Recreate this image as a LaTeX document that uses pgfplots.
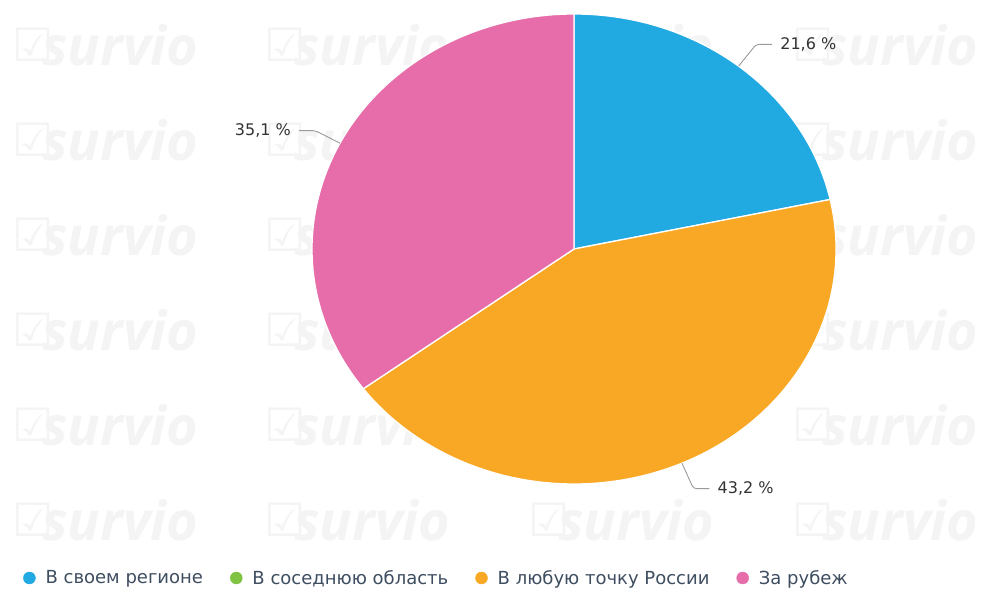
\documentclass[border=0pt]{standalone}
\usepackage{pgfplots}
\pgfplotsset{compat=1.18}
\usepackage{pgfplotstable}
\usepackage{fontspec}
\setmainfont{DejaVu Sans}
\newfontfamily\wmfont{Open Sans}
\newfontfamily\symfont{DejaVu Sans}
\definecolor{cblue}{HTML}{21A9E1}
\definecolor{cgreen}{HTML}{80C342}
\definecolor{corange}{HTML}{F9A825}
\definecolor{cpink}{HTML}{E66DAA}
\definecolor{ctext}{HTML}{333333}
\definecolor{clegend}{HTML}{3E4D60}
\definecolor{cline}{HTML}{9A9A9A}
\definecolor{cwm}{HTML}{F4F4F4}

\pgfplotstableread{
idx value
0 21.6
1 0
2 43.2
3 35.1
}\pietable

% geometry of the pie (axis units = 1pt = 1px)
\def\cx{574}\def\cy{347}\def\rx{262}\def\ry{235}

\newcommand\drawwatermark{%
  \foreach \wy in {551,456,361,266,171,76}{%
    \foreach \wx in {12,264,528,792}{%
      \node[anchor=west, inner sep=0pt, text=cwm, font=\symfont\fontsize{46}{50}\selectfont]
        at (axis cs:\wx,\wy) {☑};
      \node[anchor=west, inner sep=0pt, text=cwm, font=\wmfont\bfseries\itshape\fontsize{54}{60}\selectfont]
        at (axis cs:\wx+30,\wy) {survio};
    }}%
}

\newcommand\drawpie{%
  \gdef\tot{0}%
  \foreach \i in {0,...,3}{%
    \pgfplotstablegetelem{\i}{value}\of\pietable
    \pgfmathsetmacro\tt{\tot+\pgfplotsretval}%
    \xdef\tot{\tt}}%
  \gdef\ang{90}%
  \foreach \i/\col in {0/cblue,1/cgreen,2/corange,3/cpink}{%
    \pgfplotstablegetelem{\i}{value}\of\pietable
    \let\sv\pgfplotsretval
    \pgfmathsetmacro\aB{\ang-360*\sv/\tot}%
    \ifdim\sv pt>0pt
      \filldraw[fill=\col, draw=white, line width=1.3pt, line join=round]
        (axis cs:\cx,\cy) -- (axis cs:{\cx+\rx*cos(\ang)},{\cy+\ry*sin(\ang)})
        arc[start angle=\ang, end angle=\aB, x radius=\rx pt, y radius=\ry pt] -- cycle;
    \fi
    \xdef\ang{\aB}}%
  \gdef\ang{90}%
  \foreach \i in {0,...,3}{%
    \pgfplotstablegetelem{\i}{value}\of\pietable
    \let\sv\pgfplotsretval
    \pgfmathsetmacro\aB{\ang-360*\sv/\tot}%
    \ifdim\sv pt>0pt
      \pgfmathsetmacro\m{(\ang+\aB)/2}%
      \pgfmathsetmacro\Ex{\cx+\rx*cos(\m)}%
      \pgfmathsetmacro\Ey{\cy+\ry*sin(\m)}%
      \pgfmathsetmacro\Bx{\Ex+28*cos(\m)}%
      \pgfmathsetmacro\By{\Ey+28*sin(\m)}%
      \pgfmathsetmacro\dir{cos(\m)>0 ? 1 : -1}%
      \pgfmathsetmacro\Hx{\Bx+16*\dir}%
      \pgfmathsetmacro\Lx{\Hx+8*\dir}%
      \draw[cline, line width=0.9pt, rounded corners=3pt]
        (axis cs:\Ex,\Ey) -- (axis cs:\Bx,\By) -- (axis cs:\Hx,\By);
      \ifdim\dir pt>0pt
        \node[anchor=west, inner sep=0pt, text=ctext, font=\fontsize{16}{19}\selectfont]
          at (axis cs:\Lx,\By) {\pgfmathprintnumber[fixed,fixed zerofill,precision=1,use comma,assume math mode=true]{\sv}~\%};
      \else
        \node[anchor=east, inner sep=0pt, text=ctext, font=\fontsize{16}{19}\selectfont]
          at (axis cs:\Lx,\By) {\pgfmathprintnumber[fixed,fixed zerofill,precision=1,use comma,assume math mode=true]{\sv}~\%};
      \fi
    \fi
    \xdef\ang{\aB}}%
}

\begin{document}
\begin{tikzpicture}
\begin{axis}[name=ax,
  x=1pt, y=1pt, xmin=0, xmax=992, ymin=0, ymax=596,
  hide axis, clip=false,
  legend columns=4,
  legend style={at={(axis cs:23,18)}, anchor=west, draw=none, fill=none,
    inner sep=0pt, text=clegend, font=\fontsize{18}{21}\selectfont,
    /tikz/every even column/.append style={column sep=25pt}},
  legend cell align=left,
  legend image code/.code={\fill (6pt,0pt) circle (6pt); \path (20pt,0pt);},
]
\pgfplotsextra{\drawwatermark}
\pgfplotsextra{\drawpie}
\addlegendimage{cblue}
\addlegendentry{В своем регионе}
\addlegendimage{cgreen}
\addlegendentry{В соседнюю область}
\addlegendimage{corange}
\addlegendentry{В любую точку России}
\addlegendimage{cpink}
\addlegendentry{За рубеж}
\end{axis}
\pgfresetboundingbox
\path (ax.south west) rectangle (ax.north east);
\end{tikzpicture}
\end{document}
